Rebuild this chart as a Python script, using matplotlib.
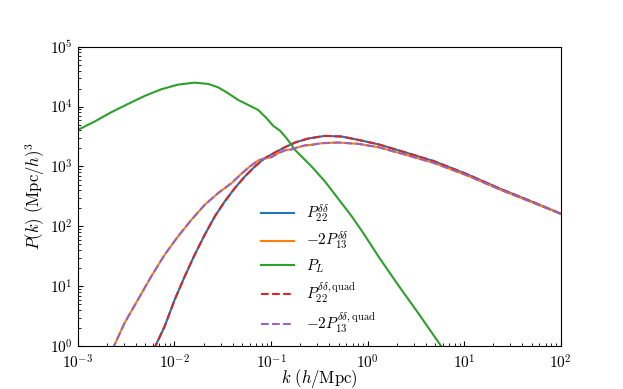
import matplotlib
matplotlib.use('Agg')
import matplotlib.pyplot as plt
from matplotlib.ticker import FuncFormatter, LogLocator
import numpy as np

plt.rcParams['mathtext.fontset'] = 'cm'
plt.rcParams['font.family'] = 'serif'
plt.rcParams['font.serif'] = ['cmr10', 'DejaVu Serif']
plt.rcParams['axes.unicode_minus'] = False

# values, as (log10 k, log10 P)
logk_lin = [-3.0, -2.827, -2.654, -2.481, -2.308, -2.136, -1.963, -1.790, -1.651,
            -1.548, -1.444, -1.340, -1.237, -1.133, -1.046, -0.977, -0.908, -0.839,
            -0.752, -0.666, -0.580, -0.441, -0.303, -0.165, -0.040, 0.112, 0.306,
            0.530, 0.755, 0.80]
logp_lin = [3.611, 3.750, 3.906, 4.044, 4.178, 4.289, 4.367, 4.400, 4.378,
            4.322, 4.222, 4.111, 4.028, 3.944, 3.806, 3.678, 3.600, 3.472,
            3.278, 3.139, 3.000, 2.750, 2.460, 2.170, 1.878, 1.500, 1.045,
            0.540, 0.017, -0.08]

logk_22 = [-2.21, -2.198, -2.101, -1.997, -1.893, -1.790, -1.686, -1.582, -1.479,
           -1.375, -1.271, -1.167, -1.064, -0.960, -0.856, -0.752, -0.614, -0.441,
           -0.268, -0.095, 0.112, 0.340, 0.686, 1.032, 1.378, 1.723, 2.0]
logp_22 = [-0.06, 0.0, 0.333, 0.778, 1.167, 1.528, 1.861, 2.167, 2.417,
           2.639, 2.833, 3.000, 3.139, 3.233, 3.322, 3.400, 3.467, 3.511,
           3.500, 3.444, 3.370, 3.260, 3.090, 2.870, 2.625, 2.400, 2.212]

logk_13 = [-2.64, -2.627, -2.516, -2.378, -2.239, -2.101, -1.963, -1.824, -1.686,
           -1.548, -1.409, -1.306, -1.219, -1.133, -1.064, -0.994, -0.925, -0.856,
           -0.787, -0.718, -0.649, -0.580, -0.476, -0.303, -0.095, 0.112, 0.340,
           0.686, 1.032, 1.378, 1.723, 2.0]
logp_13 = [-0.06, 0.0, 0.389, 0.778, 1.167, 1.528, 1.833, 2.111, 2.361,
           2.556, 2.722, 2.880, 3.000, 3.100, 3.135, 3.156, 3.222, 3.270,
           3.285, 3.322, 3.352, 3.362, 3.389, 3.400, 3.378, 3.322, 3.220,
           3.060, 2.850, 2.610, 2.390, 2.212]

k_lin, p_lin = 10**np.array(logk_lin), 10**np.array(logp_lin)
k_22, p_22 = 10**np.array(logk_22), 10**np.array(logp_22)
k_13, p_13 = 10**np.array(logk_13), 10**np.array(logp_13)

fig, ax = plt.subplots(figsize=(6.23, 3.89), dpi=100)

ax.loglog(k_22, p_22, color='C0', label=r'$P_{22}^{\delta\delta}$')
ax.loglog(k_13, p_13, color='C1', label=r'$-2P_{13}^{\delta\delta}$')
ax.loglog(k_lin, p_lin, color='C2', label=r'$P_L$')
ax.loglog(k_22, p_22, '--', color='C3', label=r'$P_{22}^{\delta\delta,\mathrm{quad}}$')
ax.loglog(k_13, p_13, '--', color='C4', label=r'$-2P_{13}^{\delta\delta,\mathrm{quad}}$')

ax.set_xlim(1e-3, 1e2)
ax.set_ylim(1e0, 1e5)
ax.set_xlabel(r'$k\ (h/\mathrm{Mpc})$', fontsize=12, labelpad=-3.5)
ax.set_ylabel(r'$P(k)\ (\mathrm{Mpc}/h)^3$', fontsize=12, labelpad=2)

fmt = FuncFormatter(lambda v, pos: r'$10^{%d}$' % int(round(np.log10(v))))
ax.xaxis.set_major_formatter(fmt)
ax.yaxis.set_major_formatter(fmt)
ax.yaxis.set_minor_locator(LogLocator(base=10, subs=np.arange(2, 10), numticks=20))
ax.tick_params(which='both', direction='in', labelsize=11)
ax.tick_params(axis='x', which='major', pad=5.5)

ax.legend(frameon=False, loc='lower left', bbox_to_anchor=(0.35, -0.01), fontsize=11,
          handlelength=2.2, labelspacing=0.35)

fig.savefig('out.png')
